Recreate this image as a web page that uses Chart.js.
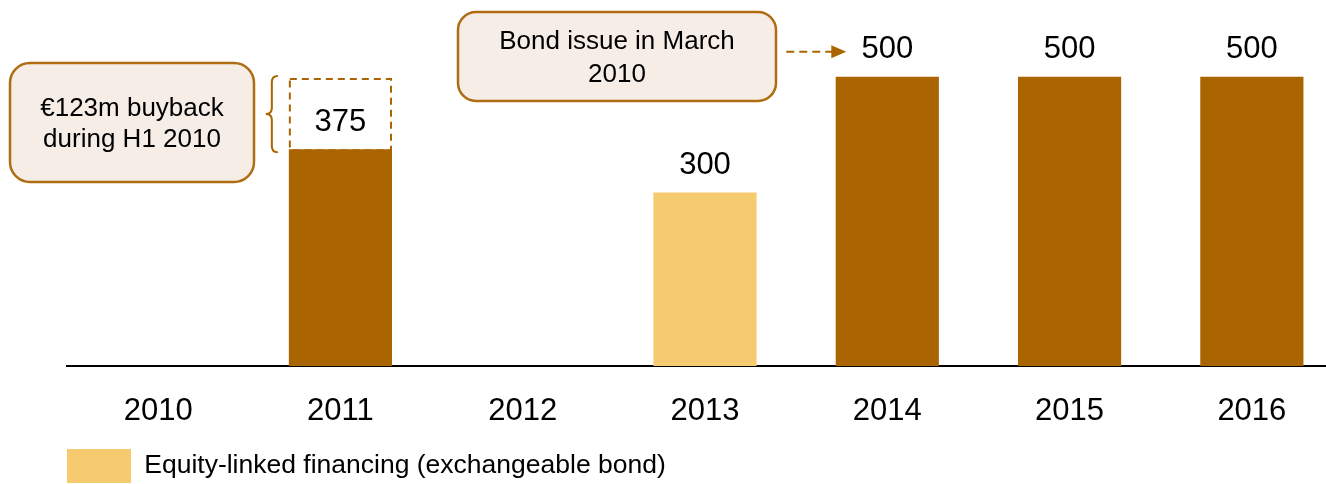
<!DOCTYPE html>
<html>
<head>
<meta charset="utf-8">
<script src="https://cdn.jsdelivr.net/npm/chart.js@4"></script>
<style>
  html, body { margin: 0; padding: 0; background: #fff; overflow: hidden; }
  #wrap { width: 1343px; height: 493px; }
</style>
</head>
<body>
<div id="wrap"><canvas id="maturities" width="1343" height="493"></canvas></div>
<script>
// Debt maturity profile, EUR m
const years = ['2010', '2011', '2012', '2013', '2014', '2015', '2016'];
const bonds = [null, 375, null, null, 500, 500, 500];
const buyback = [null, 123, null, null, null, null, null];
const exchangeable = [null, null, null, 300, null, null, null];

const buybackNote = ['€123m buyback', 'during H1 2010'];
const bondNote = ['Bond issue in March', '2010'];
const legendText = 'Equity-linked financing (exchangeable bond)';

const BROWN = '#AA6500';
const SAND = '#F6CA6F';
const NOTE_FILL = '#F6EDE7';
const NOTE_LINE = '#B06C10';
const FONT = '"Liberation Sans", Arial, sans-serif';

// numbers above the solid bars
const valueLabels = {
  id: 'valueLabels',
  afterDatasetsDraw(chart) {
    const ctx = chart.ctx;
    ctx.save();
    ctx.font = '31px ' + FONT;
    ctx.fillStyle = '#000';
    ctx.textAlign = 'center';
    ctx.textBaseline = 'middle';
    [0, 2].forEach(i => {
      const ds = chart.data.datasets[i];
      chart.getDatasetMeta(i).data.forEach((bar, j) => {
        if (ds.data[j] == null) return;
        ctx.fillText(String(ds.data[j]), bar.x, bar.y - 27);
      });
    });
    ctx.restore();
  }
};

// dashed outline for the bought-back slice plus its brace
const buybackOutline = {
  id: 'buybackOutline',
  afterDatasetsDraw(chart) {
    const ctx = chart.ctx;
    const meta = chart.getDatasetMeta(1);
    ctx.save();
    ctx.strokeStyle = BROWN;
    ctx.lineWidth = 2;
    meta.data.forEach((bar, j) => {
      if (buyback[j] == null) return;
      const left = bar.x - bar.width / 2;
      const top = bar.y;
      const bottom = bar.base;
      ctx.setLineDash([7, 5]);
      ctx.strokeRect(left + 1, top + 1, bar.width - 2, bottom - top);
      ctx.setLineDash([]);

      const t = top - 2, b = bottom + 3, mid = (t + b) / 2;
      const spine = left - 17, tip = left - 23, end = left - 11;
      ctx.beginPath();
      ctx.moveTo(end, t);
      ctx.quadraticCurveTo(spine, t, spine, t + 6);
      ctx.lineTo(spine, mid - 6);
      ctx.quadraticCurveTo(spine, mid, tip, mid);
      ctx.quadraticCurveTo(spine, mid, spine, mid + 6);
      ctx.lineTo(spine, b - 6);
      ctx.quadraticCurveTo(spine, b, end, b);
      ctx.stroke();
    });
    ctx.restore();
  }
};

function noteBox(ctx, x, y, w, h, r, lines, gap) {
  ctx.beginPath();
  ctx.roundRect(x, y, w, h, r);
  ctx.fillStyle = NOTE_FILL;
  ctx.fill();
  ctx.lineWidth = 2.5;
  ctx.strokeStyle = NOTE_LINE;
  ctx.stroke();
  ctx.fillStyle = '#000';
  ctx.font = '26px ' + FONT;
  ctx.textAlign = 'center';
  ctx.textBaseline = 'middle';
  const cy = y + h / 2 + 2 - (lines.length - 1) * gap / 2;
  lines.forEach((s, k) => ctx.fillText(s, x + w / 2, cy + k * gap));
}

const callouts = {
  id: 'callouts',
  afterDraw(chart) {
    const ctx = chart.ctx;
    const xs = chart.scales.x, ys = chart.scales.y;
    ctx.save();
    noteBox(ctx, 10, 63, 244, 119, 20, buybackNote, 31);
    noteBox(ctx, 458, 12, 318, 89, 18, bondNote, 33);

    // dashed pointer towards the first 500 label
    const tipX = xs.getPixelForValue(4) - 41;
    const ay = ys.getPixelForValue(500) - 25;
    ctx.strokeStyle = BROWN;
    ctx.fillStyle = BROWN;
    ctx.lineWidth = 2;
    ctx.setLineDash([8, 5]);
    ctx.beginPath();
    ctx.moveTo(tipX - 60, ay);
    ctx.lineTo(tipX - 14, ay);
    ctx.stroke();
    ctx.setLineDash([]);
    ctx.beginPath();
    ctx.moveTo(tipX, ay);
    ctx.lineTo(tipX - 15, ay - 6.5);
    ctx.lineTo(tipX - 15, ay + 6.5);
    ctx.closePath();
    ctx.fill();
    ctx.restore();
  }
};

new Chart(document.getElementById('maturities'), {
  type: 'bar',
  data: {
    labels: years,
    datasets: [
      { label: 'Bonds', data: bonds, backgroundColor: BROWN, borderWidth: 0 },
      { label: 'Buyback', data: buyback, backgroundColor: 'rgba(255,255,255,0)', borderWidth: 0 },
      { label: legendText, data: exchangeable, backgroundColor: SAND, borderWidth: 0 }
    ]
  },
  options: {
    responsive: false,
    animation: false,
    barPercentage: 0.566,
    categoryPercentage: 1,
    layout: { padding: { left: 67, right: 0, top: 19, bottom: 0 } },
    scales: {
      x: {
        stacked: true,
        grid: { display: false, drawTicks: false },
        border: { display: true, color: '#000', width: 2 },
        ticks: {
          color: '#000',
          font: { family: FONT, size: 31 },
          padding: 27,
          maxRotation: 0,
          autoSkip: false
        },
        afterFit(scale) { scale.height = 83; }
      },
      y: {
        stacked: true,
        display: false,
        min: 0,
        max: 600
      }
    },
    plugins: {
      tooltip: { enabled: false },
      legend: {
        position: 'bottom',
        align: 'start',
        labels: {
          boxWidth: 64,
          boxHeight: 34,
          padding: 0,
          color: '#000',
          font: { family: FONT, size: 26.5 },
          filter: item => item.datasetIndex === 2
        }
      }
    }
  },
  plugins: [valueLabels, buybackOutline, callouts]
});
</script>
</body>
</html>
